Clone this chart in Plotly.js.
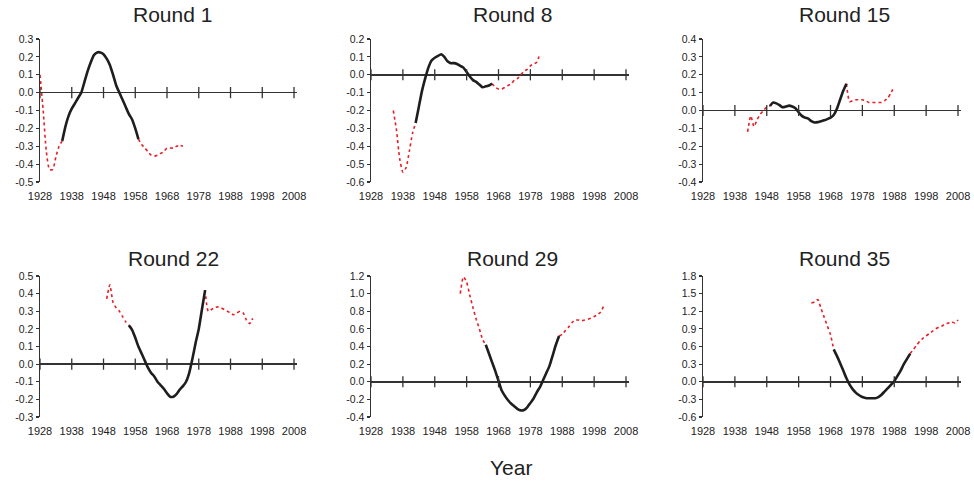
<!DOCTYPE html>
<html>
<head>
<meta charset="utf-8">
<script src="https://cdn.plot.ly/plotly-3.0.1.min.js"></script>
<style>html,body{margin:0;padding:0;background:#fff}#chart{width:974px;height:485px}</style>
</head>
<body>
<div id="chart"></div>
<script>
// ---- data ----
const xTickYears = [1928, 1938, 1948, 1958, 1968, 1978, 1988, 1998, 2008];
const panelTitles = ['Round 1', 'Round 8', 'Round 15', 'Round 22', 'Round 29', 'Round 35'];

const r1Start = 1928;
const r1Values = [0.10, -0.10, -0.33, -0.43, -0.43, -0.36, -0.30, -0.27,
  -0.19, -0.13, -0.09, -0.06, -0.03, 0.00, 0.06, 0.12, 0.17, 0.21, 0.225, 0.225, 0.215, 0.19, 0.155, 0.10,
  0.04, 0.00, -0.04, -0.08, -0.12, -0.15, -0.20, -0.26,
  -0.29, -0.31, -0.33, -0.35, -0.355, -0.35, -0.34, -0.33, -0.31, -0.31, -0.31, -0.30, -0.295, -0.30];
const r1Black = [1935, 1959];
const r1YTicks = [-0.5, -0.4, -0.3, -0.2, -0.1, 0.0, 0.1, 0.2, 0.3];

const r8Start = 1935;
const r8Values = [-0.20, -0.31, -0.47, -0.545, -0.52, -0.43, -0.33, -0.27,
  -0.18, -0.09, -0.02, 0.04, 0.08, 0.095, 0.105, 0.115, 0.10, 0.075, 0.065, 0.065, 0.06, 0.05, 0.04, 0.015,
  -0.01, -0.03, -0.04, -0.055, -0.07, -0.065, -0.06, -0.05,
  -0.07, -0.08, -0.08, -0.07, -0.06, -0.05, -0.03, -0.02, 0.00, 0.02, 0.03, 0.05, 0.06, 0.07, 0.12];
const r8Black = [1942, 1966];
const r8YTicks = [-0.6, -0.5, -0.4, -0.3, -0.2, -0.1, 0.0, 0.1, 0.2];

const r15Start = 1942;
const r15Values = [-0.12, -0.03, -0.09, -0.05, -0.02, 0.00, 0.02, 0.025,
  0.045, 0.04, 0.03, 0.018, 0.022, 0.027, 0.022, 0.012, -0.01, -0.03, -0.04, -0.045, -0.06, -0.067,
  -0.065, -0.06, -0.055, -0.048, -0.04, -0.025, 0.01, 0.06, 0.11, 0.15,
  0.05, 0.055, 0.06, 0.06, 0.06, 0.055, 0.045, 0.045, 0.045, 0.045, 0.045, 0.055, 0.07, 0.10, 0.135];
const r15Black = [1949, 1973];
const r15YTicks = [-0.4, -0.3, -0.2, -0.1, 0.0, 0.1, 0.2, 0.3, 0.4];

const r22Start = 1949;
const r22Values = [0.37, 0.45, 0.35, 0.32, 0.30, 0.27, 0.24, 0.22,
  0.195, 0.15, 0.10, 0.06, 0.02, -0.02, -0.05, -0.07, -0.10, -0.12, -0.14, -0.165, -0.185, -0.185,
  -0.17, -0.145, -0.125, -0.10, -0.05, 0.03, 0.12, 0.20, 0.31, 0.42,
  0.30, 0.31, 0.32, 0.325, 0.32, 0.31, 0.30, 0.29, 0.28, 0.29, 0.30, 0.29, 0.25, 0.23, 0.26];
const r22Black = [1956, 1980];
const r22YTicks = [-0.3, -0.2, -0.1, 0.0, 0.1, 0.2, 0.3, 0.4, 0.5];

const r29Start = 1956;
const r29Values = [1.00, 1.19, 1.13, 0.98, 0.84, 0.71, 0.60, 0.48, 0.42,
  0.32, 0.22, 0.12, 0.01, -0.10, -0.16, -0.21, -0.25, -0.28, -0.31, -0.325, -0.32, -0.29, -0.24,
  -0.19, -0.12, -0.06, 0.02, 0.10, 0.18, 0.30, 0.42, 0.52,
  0.54, 0.58, 0.62, 0.67, 0.70, 0.70, 0.69, 0.70, 0.71, 0.72, 0.74, 0.76, 0.79, 0.86];
const r29Black = [1964, 1987];
const r29YTicks = [-0.4, -0.2, 0.0, 0.2, 0.4, 0.6, 0.8, 1.0, 1.2];

const r35Start = 1962;
const r35Values = [1.34, 1.36, 1.40, 1.25, 1.10, 0.95, 0.80, 0.55,
  0.44, 0.32, 0.19, 0.06, -0.05, -0.13, -0.19, -0.23, -0.26, -0.275, -0.28, -0.28, -0.28, -0.26,
  -0.22, -0.165, -0.11, -0.05, 0.01, 0.10, 0.19, 0.30, 0.39, 0.48,
  0.55, 0.62, 0.69, 0.74, 0.78, 0.82, 0.86, 0.90, 0.93, 0.95, 0.98, 1.00, 1.02, 1.00, 1.05];
const r35Black = [1969, 1993];
const r35YTicks = [-0.6, -0.3, 0.0, 0.3, 0.6, 0.9, 1.2, 1.5, 1.8];

const panels = [
  {start: r1Start, values: r1Values, black: r1Black, yticks: r1YTicks},
  {start: r8Start, values: r8Values, black: r8Black, yticks: r8YTicks},
  {start: r15Start, values: r15Values, black: r15Black, yticks: r15YTicks},
  {start: r22Start, values: r22Values, black: r22Black, yticks: r22YTicks},
  {start: r29Start, values: r29Values, black: r29Black, yticks: r29YTicks},
  {start: r35Start, values: r35Values, black: r35Black, yticks: r35YTicks}
];

// ---- layout geometry (pixels) ----
const W = 974, H = 485;
const colX = [[40, 297.2], [371, 629.2], [703, 961.2]];
const rowY = [[39, 182], [276, 417]];
const titlePos = [[172, 14], [512, 14], [844, 14], [173, 258], [512, 258], [844, 258]];

const redColor = 'rgb(232,30,38)';
const blackColor = '#1e1e1e';
const axisColor = '#333';
const font = 'Liberation Sans, Arial, sans-serif';

const traces = [];
const layout = {
  width: W, height: H,
  margin: {l: 0, r: 0, t: 0, b: 0},
  paper_bgcolor: '#fff', plot_bgcolor: '#fff',
  showlegend: false, hovermode: false,
  font: {family: font, color: '#222'},
  annotations: []
};

panels.forEach((p, i) => {
  const n = i + 1;
  const sfx = n === 1 ? '' : String(n);
  const xa = 'x' + sfx, ya = 'y' + sfx;
  const years = p.values.map((_, k) => p.start + k);
  const pre = {x: [], y: []}, mid = {x: [], y: []}, post = {x: [], y: []};
  years.forEach((yr, k) => {
    const v = p.values[k];
    if (yr <= p.black[0]) { pre.x.push(yr); pre.y.push(v); }
    if (yr >= p.black[0] && yr <= p.black[1]) { mid.x.push(yr); mid.y.push(v); }
    if (yr >= p.black[1]) { post.x.push(yr); post.y.push(v); }
  });
  [pre, post].forEach(s => traces.push({
    type: 'scatter', mode: 'lines', x: s.x, y: s.y, xaxis: xa, yaxis: ya,
    line: {color: redColor, width: 1.6, dash: 'dot', shape: 'spline', smoothing: 0.6}
  }));
  traces.push({
    type: 'scatter', mode: 'lines', x: mid.x, y: mid.y, xaxis: xa, yaxis: ya,
    line: {color: blackColor, width: 2.6, shape: 'spline', smoothing: 0.6}
  });
  // tick marks crossing the zero line
  traces.push({
    type: 'scatter', mode: 'markers', x: xTickYears, y: xTickYears.map(() => 0),
    xaxis: xa, yaxis: ya, cliponaxis: false,
    marker: {symbol: 'line-ns', size: 8, color: axisColor, line: {width: 1.3, color: axisColor}}
  });

  const c = colX[i % 3], r = rowY[Math.floor(i / 3)];
  layout['xaxis' + sfx] = {
    domain: [c[0] / W, c[1] / W], anchor: ya, range: [1928, 2009],
    tickvals: xTickYears, ticktext: xTickYears.map(String),
    showline: false, zeroline: false, showgrid: false, ticks: '',
    ticklabelstandoff: 6, tickfont: {size: 11, color: '#222', family: font}, fixedrange: true
  };
  layout['yaxis' + sfx] = {
    domain: [1 - r[1] / H, 1 - r[0] / H], anchor: xa,
    range: [p.yticks[0], p.yticks[p.yticks.length - 1]],
    tickvals: p.yticks, ticktext: p.yticks.map(v => v.toFixed(1)),
    showline: true, linecolor: axisColor, linewidth: 1.5,
    ticks: 'outside', ticklen: 3, tickwidth: 1.2, tickcolor: axisColor,
    zeroline: true, zerolinecolor: axisColor, zerolinewidth: 1.5, showgrid: false,
    tickfont: {size: 10.5, color: '#222', family: font}, fixedrange: true
  };
  layout.annotations.push({
    text: panelTitles[i], xref: 'paper', yref: 'paper',
    x: titlePos[i][0] / W, y: 1 - titlePos[i][1] / H, xanchor: 'center', yanchor: 'middle',
    showarrow: false, font: {size: 21, color: '#222', family: font}
  });
});

layout.annotations.push({
  text: 'Year', xref: 'paper', yref: 'paper', x: 511 / W, y: 1 - 467 / H,
  xanchor: 'center', yanchor: 'middle', showarrow: false,
  font: {size: 21, color: '#222', family: font}
});

Plotly.newPlot('chart', traces, layout, {staticPlot: true, displayModeBar: false});
</script>
</body>
</html>
